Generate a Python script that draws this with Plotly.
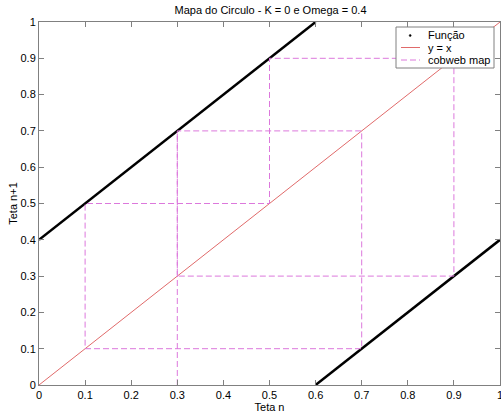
import plotly.graph_objects as go

title = "Mapa do Circulo - K = 0 e Omega = 0.4"

# Function branches (theta_{n+1} = theta_n + 0.4 mod 1)
f1_x = [0.0, 0.6]
f1_y = [0.4, 1.0]
f2_x = [0.6, 1.0]
f2_y = [0.0, 0.4]

# identity line
id_x = [0.0, 1.0]
id_y = [0.0, 1.0]

# cobweb path
cw_x = [0.3, 0.3, 0.7, 0.7, 0.1, 0.1, 0.5, 0.5, 0.9, 0.9, 0.3, 0.3]
cw_y = [0.0, 0.7, 0.7, 0.1, 0.1, 0.5, 0.5, 0.9, 0.9, 0.3, 0.3, 0.7]

ticks = [0, 0.1, 0.2, 0.3, 0.4, 0.5, 0.6, 0.7, 0.8, 0.9, 1]
tick_text = ["0", "0.1", "0.2", "0.3", "0.4", "0.5", "0.6", "0.7", "0.8", "0.9", "1"]

legend_names = ["Função", "y = x", "cobweb map"]

RED = "#e06a6a"
MAG = "#dc78dc"
GRAY = "#808080"

W, H = 501, 417
L, R, T, B = 39, 1, 22, 32
PW, PH = W - L - R, H - T - B


def px(xp):
    return (xp - L) / PW


def py(yp):
    return (H - B - yp) / PH


fig = go.Figure()
fig.add_trace(go.Scatter(x=f1_x, y=f1_y, mode="lines", line=dict(color="black", width=2.5),
                         showlegend=False, hoverinfo="skip"))
fig.add_trace(go.Scatter(x=f2_x, y=f2_y, mode="lines", line=dict(color="black", width=2.5),
                         showlegend=False, hoverinfo="skip"))
fig.add_trace(go.Scatter(x=id_x, y=id_y, mode="lines", showlegend=False,
                         line=dict(color=RED, width=1)))
fig.add_trace(go.Scatter(x=cw_x, y=cw_y, mode="lines", showlegend=False,
                         line=dict(color=MAG, width=1, dash="6px,3px")))

axis_common = dict(
    range=[0, 1], tickvals=ticks, ticktext=tick_text, ticks="inside", ticklen=5,
    tickcolor=GRAY, showline=True, linecolor=GRAY, linewidth=1, mirror="ticks",
    showgrid=False, zeroline=False, tickfont=dict(size=11, color="black"),
    ticklabeloverflow="allow", automargin=False,
)

# manual legend (MATLAB style)
box_l, box_r, box_t, box_b = 396, 494, 27, 68
rows = [35.5, 47.5, 60]
shapes = [
    dict(type="rect", xref="paper", yref="paper", x0=px(box_l), x1=px(box_r),
         y0=py(box_b), y1=py(box_t), line=dict(color=GRAY, width=1), fillcolor="white",
         layer="above"),
    dict(type="circle", xref="paper", yref="paper", x0=px(409.2), x1=px(411.2),
         y0=py(rows[0] + 1), y1=py(rows[0] - 1), line=dict(color="black", width=0.5),
         fillcolor="black", layer="above"),
    dict(type="line", xref="paper", yref="paper", x0=px(401), x1=px(420),
         y0=py(rows[1]), y1=py(rows[1]), line=dict(color=RED, width=1), layer="above"),
    dict(type="line", xref="paper", yref="paper", x0=px(401), x1=px(420),
         y0=py(rows[2]), y1=py(rows[2]), line=dict(color=MAG, width=1, dash="6px,3px"),
         layer="above"),
]
annotations = [
    dict(text=name, xref="paper", yref="paper", x=px(426), y=py(yr), xanchor="left",
         yanchor="middle", showarrow=False, font=dict(size=11, color="black"))
    for name, yr in zip(legend_names, rows)
]

fig.update_layout(
    width=W, height=H,
    margin=dict(l=L, r=R, t=T, b=B, autoexpand=False),
    paper_bgcolor="white", plot_bgcolor="white",
    font=dict(family="Liberation Sans, Arial, sans-serif", size=11, color="black"),
    title=dict(text=title, x=0.54, xanchor="center", y=0.975, yanchor="middle",
               font=dict(size=11)),
    xaxis=dict(**axis_common, title=dict(text="Teta n", standoff=2, font=dict(size=11))),
    yaxis=dict(**axis_common, title=dict(text="Teta n+1", standoff=0, font=dict(size=11))),
    showlegend=False,
    shapes=shapes,
    annotations=annotations,
)

fig.write_html("out.html")
